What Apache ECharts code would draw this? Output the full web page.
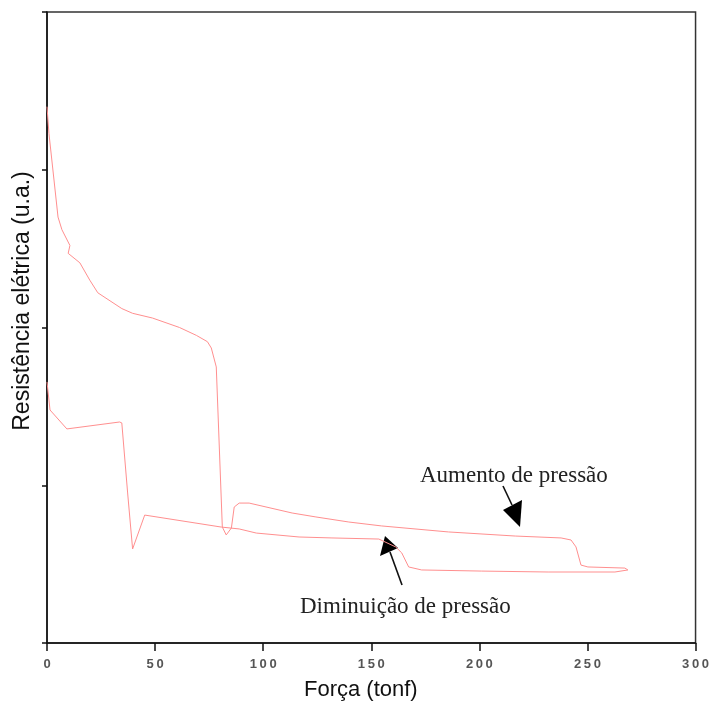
<!DOCTYPE html>
<html>
<head>
<meta charset="utf-8">
<title>Resistência elétrica vs Força</title>
<script src="https://cdn.jsdelivr.net/npm/echarts@6/dist/echarts.min.js"></script>
<style>
  html, body { margin: 0; padding: 0; background: #fff; }
  #chart { width: 712px; height: 702px; }
</style>
</head>
<body>
<div id="chart"></div>
<script>
// Força (tonf) and resistência (u.a.) while the load goes up
const aumentoForca = [0, 0.9, 5.1, 6.9, 10.6, 9.8, 15.2, 19.8, 23.5, 34.6, 39.6, 48.8, 61.3, 69.1, 74.2, 76.0, 78.3, 81.1, 82.9, 85.3, 86.6, 88.9, 93.5, 113.4, 124.4, 139.6, 154.8, 185.7, 216.6, 237.8, 242.4, 244.7, 247.0, 250.2, 267.3, 268.7];
const aumentoResist = [3.40, 3.23, 2.70, 2.62, 2.52, 2.47, 2.41, 2.30, 2.22, 2.12, 2.09, 2.06, 2.00, 1.95, 1.91, 1.87, 1.75, 0.735, 0.685, 0.729, 0.862, 0.887, 0.887, 0.824, 0.799, 0.767, 0.742, 0.704, 0.678, 0.666, 0.653, 0.609, 0.494, 0.482, 0.475, 0.463];

// Same quantities while the load comes back down
const diminuicaoForca = [0, 1.4, 9.2, 9.7, 33.6, 34.6, 37.3, 39.6, 45.2, 80.6, 88.9, 96.8, 116.6, 131.8, 153.5, 161.3, 164.1, 167.3, 173.3, 200.9, 231.8, 262.7, 268.7];
const diminuicaoResist = [1.655, 1.477, 1.357, 1.350, 1.401, 1.395, 0.951, 0.596, 0.811, 0.735, 0.723, 0.697, 0.672, 0.666, 0.659, 0.609, 0.571, 0.482, 0.463, 0.456, 0.450, 0.450, 0.463];

const xTicks = [0, 50, 100, 150, 200, 250, 300];

const pairs = (xs, ys) => xs.map((x, i) => [x, ys[i]]);
const lineColor = '#ff8f8f';
const sans = 'Liberation Sans, Arial, sans-serif';
const serif = 'Liberation Serif, Times New Roman, serif';

const chart = echarts.init(document.getElementById('chart'), null, { renderer: 'canvas' });

chart.setOption({
  animation: false,
  backgroundColor: '#fff',
  grid: {
    left: 47, right: 14, top: 12, bottom: 59,
    show: true, borderColor: '#333', borderWidth: 1.5, backgroundColor: 'transparent'
  },
  xAxis: {
    type: 'value', min: xTicks[0], max: xTicks[xTicks.length - 1], interval: 50,
    axisLine: { onZero: false, lineStyle: { color: '#111', width: 1.5 } },
    axisTick: { length: 8, lineStyle: { color: '#111', width: 1.5 } },
    axisLabel: {
      margin: 15, color: '#555', fontFamily: sans, fontSize: 13, fontWeight: 'bold',
      formatter: v => String(v).split('').join('\u2009')
    },
    splitLine: { show: false }
  },
  yAxis: {
    type: 'value', min: 0, max: 4, interval: 1,
    axisLine: { onZero: false, lineStyle: { color: '#111', width: 1.5 } },
    axisTick: { length: 5, lineStyle: { color: '#111', width: 1.5 } },
    axisLabel: { show: false },
    splitLine: { show: false }
  },
  series: [
    {
      name: 'Aumento de pressão', type: 'line', showSymbol: false, smooth: false,
      data: pairs(aumentoForca, aumentoResist),
      lineStyle: { color: lineColor, width: 1 }
    },
    {
      name: 'Diminuição de pressão', type: 'line', showSymbol: false, smooth: false,
      data: pairs(diminuicaoForca, diminuicaoResist),
      lineStyle: { color: lineColor, width: 1 }
    }
  ],
  graphic: [
    { type: 'text', left: 304, top: 679,
      style: { text: 'Força (tonf)', font: '22px ' + sans, fill: '#111' } },
    { type: 'text', x: 23, y: 301, rotation: Math.PI / 2,
      style: { text: 'Resistência elétrica (u.a.)', font: '23px ' + sans, fill: '#111',
               textAlign: 'center', textVerticalAlign: 'middle' } },
    { type: 'text', left: 420, top: 464,
      style: { text: 'Aumento de pressão', font: '23px ' + serif, fill: '#222' } },
    { type: 'line', shape: { x1: 503, y1: 486, x2: 512, y2: 505 },
      style: { stroke: '#111', lineWidth: 1.6 } },
    { type: 'polygon', shape: { points: [[503, 510], [522, 500], [520, 527]] },
      style: { fill: '#000' } },
    { type: 'text', left: 300, top: 595,
      style: { text: 'Diminuição de pressão', font: '23px ' + serif, fill: '#222' } },
    { type: 'line', shape: { x1: 402, y1: 585, x2: 390, y2: 552 },
      style: { stroke: '#111', lineWidth: 1.6 } },
    { type: 'polygon', shape: { points: [[380, 556], [398, 548], [385, 536]] },
      style: { fill: '#000' } }
  ]
});
</script>
</body>
</html>
